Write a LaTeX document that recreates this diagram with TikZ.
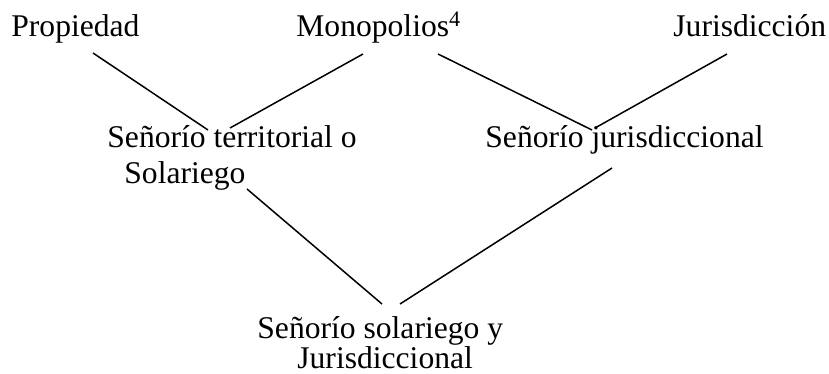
\documentclass[tikz,border=0pt]{standalone}
\usepackage{fontspec}
\setmainfont{Liberation Serif}
\begin{document}
\begin{tikzpicture}[x=0.5pt,y=-0.5pt,
  lbl/.style={inner sep=0pt,anchor=base west,font=\fontsize{15.8}{19}\selectfont},
  conn/.style={line width=0.75pt,black}]
\useasboundingbox (0,0) rectangle (829,374);
% texts
\node[lbl] (prop) at (11,37) {Propiedad};
\node[lbl] (mono) at (296,37) {Monopolios\textsuperscript{4}};
\node[lbl] (juri) at (673,37) {Jurisdicción};
\node[lbl] (terr1) at (107,148) {Señorío territorial o};
\node[lbl] (terr2) at (124,183) {Solariego};
\node[lbl] (jsd) at (485,148) {Señorío jurisdiccional};
\node[lbl] (sj1) at (257,338) {Señorío solariego y};
\node[lbl] (sj2) at (297,368) {Jurisdiccional};
% connector end points
\coordinate (pA) at (93,53);   \coordinate (pB) at (208,130);
\coordinate (mA) at (363,54);  \coordinate (mB) at (230,128);
\coordinate (mC) at (438,54);  \coordinate (mD) at (592,130);
\coordinate (jA) at (727,54);  \coordinate (jB) at (595,128);
\coordinate (sA) at (247,189); \coordinate (sB) at (382,304);
\coordinate (dA) at (612,168); \coordinate (dB) at (400,304);
\draw[conn] (pA) -- (pB);
\draw[conn] (mA) -- (mB);
\draw[conn] (mC) -- (mD);
\draw[conn] (jA) -- (jB);
\draw[conn] (sA) -- (sB);
\draw[conn] (dA) -- (dB);
\end{tikzpicture}
\end{document}
